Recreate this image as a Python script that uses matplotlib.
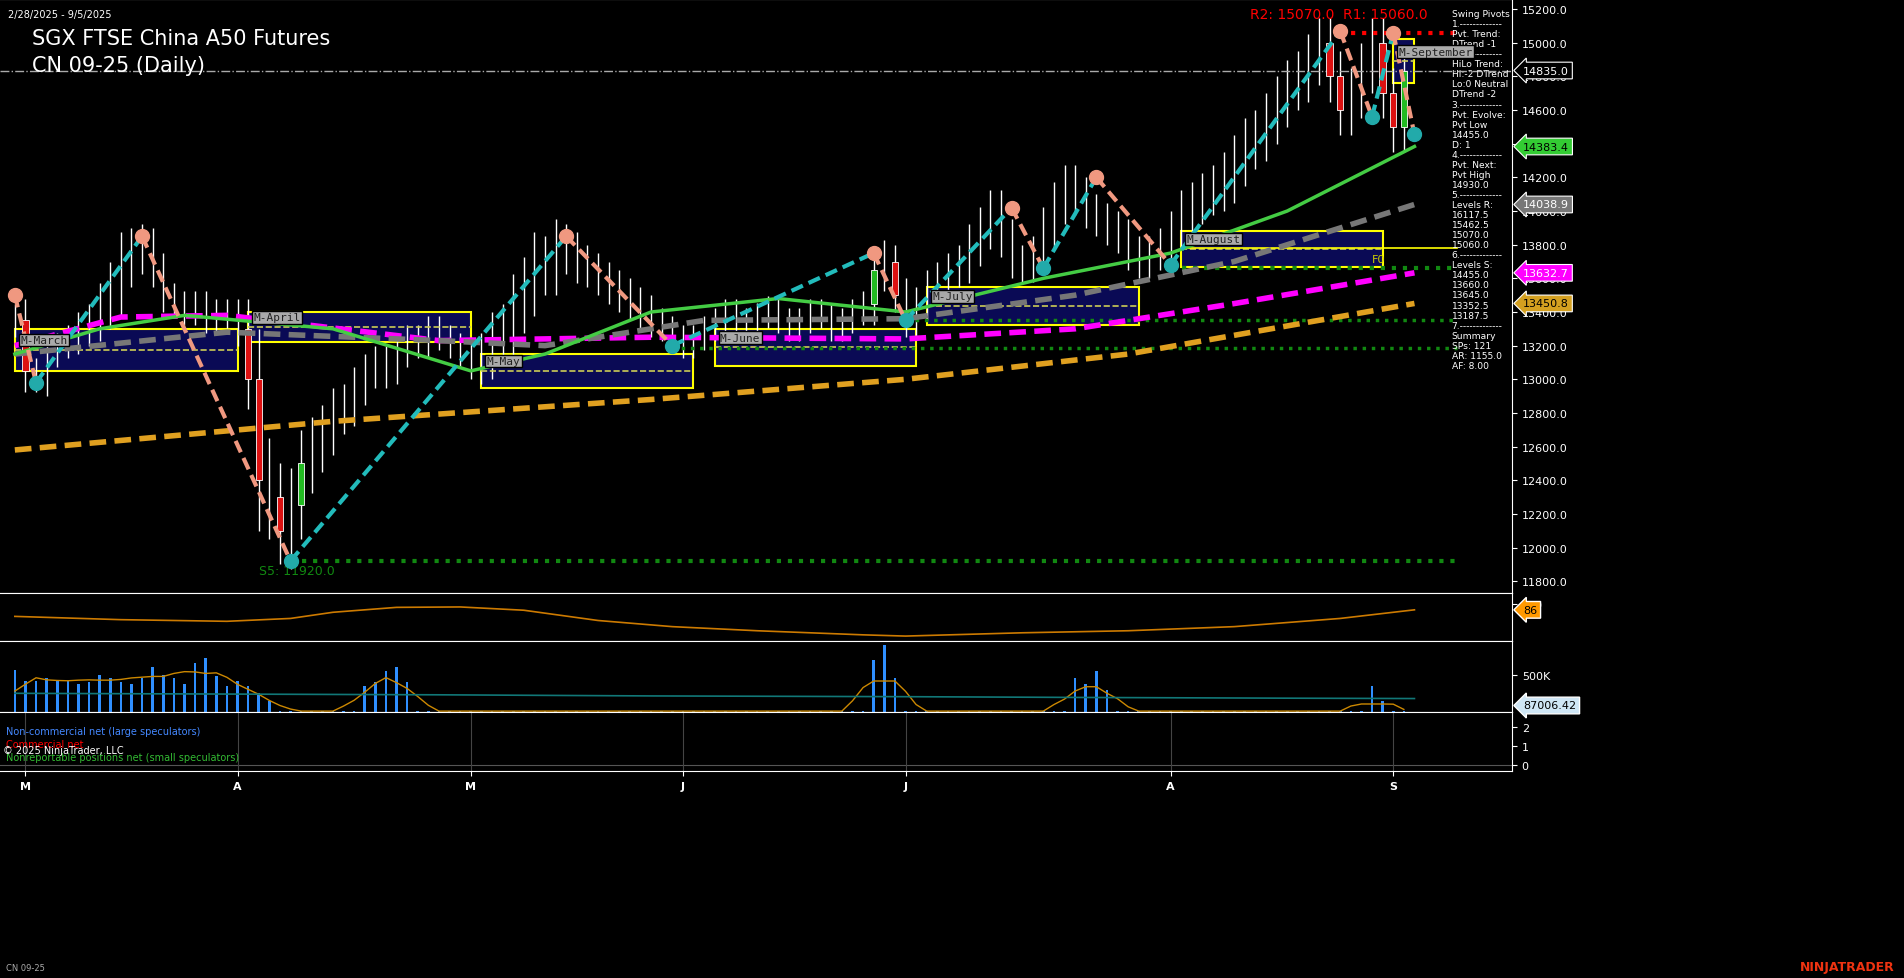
import matplotlib
matplotlib.use("Agg")
import matplotlib.pyplot as plt
from matplotlib.patches import Rectangle
import numpy as np

# ---- data ----
closes = [13350,13050,13000,13150,13200,13250,13300,13350,13450,13550,13700,13750,13800,13650,13500,13450,13400,13450,13350,13400,13380,
          13300,13000,12400,12300,12100,12250,12500,12600,12700,12800,12850,12950,13050,13100,13050,13150,13250,13200,13300,13250,13200,13150,
          13100,13150,13250,13300,13450,13550,13700,13650,13800,13750,13700,13650,13600,13550,13500,13450,13400,13350,13300,13250,
          13200,13250,13300,13350,13400,13350,13300,13380,13420,13350,13300,13350,13400,13380,13300,13350,13400,13450,13650,13700,13500,
          13350,13450,13550,13600,13650,13700,13800,13900,14000,13850,13700,13680,13750,13900,14050,14150,14100,14000,13950,13900,13850,13750,13700,
          13750,13800,13900,14000,14050,14100,14150,14200,14300,14400,14450,14550,14650,14750,14800,14900,15000,14800,14600,14700,14850,
          15000,14700,14500,14835]
wick = [200,250,150,200,150,150,200,200,250,300,350,300,250,200,200,150,150,150,150,150,150,
        200,350,600,500,400,450,400,350,300,300,250,250,200,200,200,150,150,150,150,150,150,150,
        200,250,300,300,350,350,350,300,300,250,250,200,200,200,200,200,200,200,150,150,
        150,150,150,150,150,150,150,150,150,150,150,150,150,150,150,150,150,150,250,250,200,
        200,200,200,200,200,200,250,250,250,250,200,200,200,250,250,250,250,200,200,200,200,200,200,
        200,200,200,250,250,250,250,300,300,300,300,300,300,300,300,300,300,300,300,300,300,
        300,300,300,300]
vol = [560,420,420,460,430,420,380,400,500,450,400,380,450,600,500,450,380,650,720,480,350,
       420,350,250,150,12,12,12,12,12,12,12,12,350,400,550,600,400,12,12,12,12,12,
       12,12,12,12,12,12,12,12,12,12,12,12,12,12,12,12,12,12,12,12,
       12,12,12,12,12,12,12,12,12,12,12,12,12,12,12,12,12,12,700,900,450,
       12,12,12,12,12,12,12,12,12,12,12,12,12,12,12,12,450,380,550,300,12,12,12,
       12,12,12,12,12,12,12,12,12,12,12,12,12,12,12,12,12,12,12,12,12,
       350,150,12,12]
vol_avg_i = [0, 20, 40, 60, 84, 100, 120, 132]
vol_avg = [250, 240, 230, 215, 205, 195, 185, 180]

# swing pivots (bar index, price)
piv_i = [0, 2, 12, 26, 52, 62, 81, 84, 94, 97, 102, 109, 125, 128, 130, 132]
piv_p = [13500, 12980, 13850, 11920, 13850, 13200, 13750, 13350, 14020, 13660, 14200, 13680, 15070, 14560, 15060, 14455]
piv_high = [0, 12, 52, 81, 94, 102, 125, 130]

# moving averages (knots: bar index, value)
ma_green_i = [0, 8, 16, 30, 43, 50, 60, 72, 84, 97, 109, 120, 132]
ma_green = [13150, 13300, 13380, 13300, 13050, 13150, 13400, 13480, 13400, 13600, 13750, 14000, 14383.4]
ma_gray_i = [0, 20, 40, 50, 65, 84, 100, 115, 132]
ma_gray = [13150, 13280, 13230, 13200, 13350, 13360, 13500, 13700, 14038.9]
ma_mag_i = [0, 10, 20, 40, 60, 84, 100, 115, 132]
ma_mag = [13200, 13370, 13380, 13230, 13250, 13240, 13300, 13450, 13632.7]
ma_org_i = [0, 30, 60, 84, 105, 132]
ma_org = [12580, 12750, 12880, 13000, 13150, 13450.8]

# monthly value-area boxes: (start bar, end bar, low, high, label)
boxes = [(0, 21, 13050, 13300, "M-March"), (22, 43, 13220, 13400, "M-April"),
         (44, 64, 12950, 13150, "M-May"), (66, 85, 13080, 13300, "M-June"),
         (86, 106, 13320, 13550, "M-July"), (110, 129, 13670, 13880, "M-August"),
         (130, 132, 14760, 15020, "M-September")]

osc_i = [0, 10, 20, 26, 30, 36, 42, 48, 55, 62, 70, 80, 84, 95, 105, 115, 125, 132]
osc = [70, 62, 58, 65, 80, 92, 93, 85, 60, 45, 35, 25, 22, 30, 35, 45, 65, 86]

month_ticks = [1, 21, 43, 63, 84, 109, 130]
month_labels = ["M", "A", "M", "J", "J", "A", "S"]

info = ("Swing Pivots\n1.-------------\nPvt. Trend:\nDTrend -1\n2.-------------\nHiLo Trend:\nHi:-2 DTrend\n"
        "Lo:0 Neutral\nDTrend -2\n3.-------------\nPvt. Evolve:\nPvt Low\n14455.0\nD: 1\n4.-------------\n"
        "Pvt. Next:\nPvt High\n14930.0\n5.-------------\nLevels R:\n16117.5\n15462.5\n15070.0\n15060.0\n"
        "6.-------------\nLevels S:\n14455.0\n13660.0\n13645.0\n13352.5\n13187.5\n7.-------------\n"
        "Summary\nSPs: 121\nAR: 1155.0\nAF: 8.00")

W, H = 1904, 979
fig = plt.figure(figsize=(W / 100, H / 100), dpi=100, facecolor="black")
R = 1512 / W

def ax_at(top, bot):
    a = fig.add_axes([0, 1 - bot / H, R, (bot - top) / H], facecolor="black")
    for s in a.spines.values():
        s.set_color("white")
    a.spines["left"].set_visible(False)
    a.tick_params(colors="white", labelsize=8, left=False, labelleft=False,
                  right=True, labelright=True, bottom=False, labelbottom=False)
    a.set_xlim(-1.4, 141.2)
    return a

ax = ax_at(0, 594)
ax.set_ylim(11730, 15260)
ax.set_yticks(np.arange(11800, 15201, 200))
ax.set_yticklabels([f"{v:.1f}" for v in np.arange(11800, 15201, 200)])

x = np.arange(len(closes))
opens = [closes[0]] + closes[:-1]
for i in x:
    c, o = closes[i], opens[i]
    ax.vlines(i, min(o, c) - wick[i] * 0.5, max(o, c) + wick[i] * 0.5, color="white", lw=1)
    if abs(c - o) > 180:
        col = "#22bb22" if c > o else "#dd1111"
        ax.add_patch(Rectangle((i - 0.3, min(o, c)), 0.6, abs(c - o), facecolor=col, edgecolor="white", lw=0.6, zorder=3))

for b0, b1, lo, hi, lab in boxes:
    ax.add_patch(Rectangle((b0, lo), b1 - b0, hi - lo, facecolor="#0a0a55", edgecolor="yellow", lw=1.5, zorder=1))
    ax.plot([b0, b1], [(lo + hi) / 2] * 2, color="#cccc55", ls="--", lw=1.2, zorder=2)
    ax.text(b0 + 0.5, (lo + hi) / 2 + 40, lab, color="#222222", fontsize=8, family="DejaVu Sans Mono",
            bbox=dict(facecolor="#aaaaaa", edgecolor="black", pad=1), zorder=6)
ax.plot([110, 136], [13780, 13780], color="yellow", lw=1.2)
ax.text(128, 13700, "F0", color="#cccc00", fontsize=8)

ax.plot(ma_org_i, ma_org, color="#e0a020", ls="--", lw=4, dashes=(3, 1.5), zorder=4)
ax.plot(ma_mag_i, ma_mag, color="#ff00ff", ls="--", lw=4, dashes=(3, 1.5), zorder=4)
ax.plot(ma_gray_i, ma_gray, color="#777777", ls="--", lw=4, dashes=(3, 1.5), zorder=4)
ax.plot(ma_green_i, ma_green, color="#44cc44", lw=2.5, zorder=4)

for k in range(len(piv_i) - 1):
    up = piv_p[k + 1] > piv_p[k]
    ax.plot(piv_i[k:k + 2], piv_p[k:k + 2], color="#22bbbb" if up else "#f09880",
            ls="--", lw=3, dashes=(3, 1.5), zorder=5)
for pi, pp in zip(piv_i, piv_p):
    ax.scatter(pi, pp, s=100, color="#f09880" if pi in piv_high else "#22aaaa", zorder=6)

ax.plot([125, 136], [15060, 15060], color="red", ls=":", lw=3)
ax.plot([26, 136], [11920, 11920], color="#118811", ls=":", lw=3)
ax.plot([109, 136], [13660, 13660], color="#118811", ls=":", lw=3)
ax.plot([84, 136], [13352, 13352], color="#118811", ls=":", lw=2.5)
ax.plot([62, 136], [13187, 13187], color="#118811", ls=":", lw=2.5)
ax.axhline(14835, color="#aaaaaa", ls="-.", lw=1)
ax.text(23, 11840, "S5: 11920.0", color="#118811", fontsize=9)
ax.text(116.5, 15150, "R2: 15070.0", color="red", fontsize=10)
ax.text(125.3, 15150, "R1: 15060.0", color="red", fontsize=10)
ax.text(135.5, 15200, info, color="white", fontsize=6.6, va="top", linespacing=1.15)

for val, fc, tc in [(14835.0, "black", "white"), (14383.4, "#33cc33", "black"), (14038.9, "#777777", "white"),
                    (13632.7, "#ff00ff", "white"), (13450.8, "#d4a020", "black")]:
    ax.annotate(f"{val:.1f}", xy=(1.0, val), xycoords=("axes fraction", "data"), xytext=(8, 0),
                textcoords="offset points", color=tc, fontsize=8, va="center",
                bbox=dict(boxstyle="larrow,pad=0.3", facecolor=fc, edgecolor="white", lw=0.8),
                annotation_clip=False, zorder=10)

fig.text(0.004, 0.99, "2/28/2025 - 9/5/2025", color="white", fontsize=7, va="top")
fig.text(0.017, 0.97, "SGX FTSE China A50 Futures", color="white", fontsize=15, va="top")
fig.text(0.017, 0.943, "CN 09-25 (Daily)", color="white", fontsize=15, va="top")

# oscillator panel
ax2 = ax_at(594, 642)
ax2.plot(osc_i, osc, color="#cc7a00", lw=1.2)
ax2.set_ylim(10, 127)
ax2.set_yticks([100])
ax2.annotate("86", xy=(1.0, 86), xycoords=("axes fraction", "data"), xytext=(8, 0), textcoords="offset points",
             color="black", fontsize=8, va="center", annotation_clip=False,
             bbox=dict(boxstyle="larrow,pad=0.3", facecolor="#ff9900", edgecolor="white"))

# volume panel
ax3 = ax_at(642, 713)
ax3.bar(x, vol, width=0.25, color="#2f8fff")
vs = np.convolve(vol, np.ones(5) / 5, mode="same")
ax3.plot(x, vs, color="#cc8800", lw=1)
ax3.plot(vol_avg_i, vol_avg, color="#117777", lw=1.2)
ax3.set_ylim(0, 950)
ax3.set_yticks([500])
ax3.set_yticklabels(["500K"])
ax3.annotate("87006.42", xy=(1.0, 87), xycoords=("axes fraction", "data"), xytext=(8, 0), textcoords="offset points",
             color="black", fontsize=8, va="center", annotation_clip=False,
             bbox=dict(boxstyle="larrow,pad=0.3", facecolor="#cfe6f5", edgecolor="white"))

# COT panel
ax4 = ax_at(713, 772)
ax4.set_ylim(-0.3, 2.8)
ax4.set_yticks([0, 1, 2])
ax4.axhline(0, color="#555555", lw=0.8)
for t in month_ticks:
    ax4.axvline(t, color="#444444", lw=0.8)
ax4.tick_params(bottom=True, labelbottom=True, colors="white", labelsize=8)
ax4.set_xticks(month_ticks)
ax4.set_xticklabels(month_labels, fontweight="bold")
ax4.text(0.004, 0.62, "Non-commercial net (large speculators)", color="#4488ff", fontsize=7, transform=ax4.transAxes)
ax4.text(0.004, 0.4, "Commercial net", color="red", fontsize=7, transform=ax4.transAxes)
ax4.text(0.004, 0.18, "Nonreportable positions net (small speculators)", color="#33bb33", fontsize=7, transform=ax4.transAxes)
ax4.text(0.002, 0.3, "\u00a9 2025 NinjaTrader, LLC", color="white", fontsize=7, transform=ax4.transAxes)

fig.text(0.003, 0.008, "CN 09-25", color="#aaaaaa", fontsize=6)
fig.text(0.995, 0.008, "NINJATRADER", color="#ee3311", fontsize=9, ha="right", fontweight="bold")

fig.savefig("out.png", dpi=100, facecolor="black")
